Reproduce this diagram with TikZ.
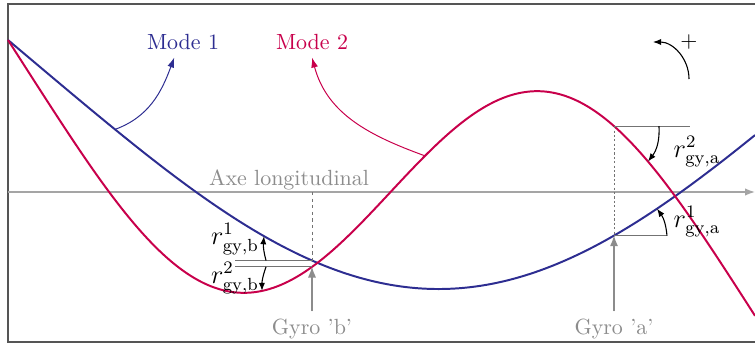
\documentclass[tikz,border=0pt]{standalone}
\usepackage{amsmath}
\usetikzlibrary{arrows.meta,positioning,calc}
\definecolor{modeblue}{RGB}{45,45,145}
\definecolor{modered}{RGB}{200,0,75}
\definecolor{axisgray}{RGB}{165,165,165}
\definecolor{labelgray}{RGB}{140,140,140}
\definecolor{framegray}{RGB}{85,85,85}
\tikzset{
  blueline/.style={draw=modeblue,line width=0.9pt},
  redline/.style={draw=modered,line width=0.9pt},
  axisline/.style={-{Latex[length=1.6mm,width=1.2mm]},draw=axisgray,line width=0.7pt},
  guide/.style={draw=black!55,line width=0.4pt},
  gyroarr/.style={-{Latex[length=1.7mm,width=1.3mm]},draw=labelgray,fill=labelgray,line width=0.5pt},
  rotarr/.style={-{Latex[length=1.3mm,width=1mm]},draw=black,line width=0.5pt},
  modearr/.style={-{Latex[length=1.6mm,width=1.1mm]},line width=0.45pt},
  rlabel/.style={font=\large,inner sep=0.5pt},
  graylabel/.style={text=labelgray},
  declare function={
    xione(\x)=(\x+1)/879;
    modeone(\x)=192-79.8*(0.991*(exp(4.73*(xione(\x)-1))+exp(-4.73*xione(\x)))
      +cos(deg(4.73*xione(\x)))-0.9825*sin(deg(4.73*xione(\x))));
    xitwo(\x)=(\x-8)/765;
    modetwo(\x)=192-76*(exp(-7.853*xitwo(\x))-exp(7.853*(xitwo(\x)-1))
      +cos(deg(7.853*xitwo(\x)))-sin(deg(7.853*xitwo(\x))));
  }
}

\begin{document}
\begin{tikzpicture}[x=0.016cm,y=-0.016cm]
  \useasboundingbox (0,0) rectangle (755,345);
  \clip (0,0) rectangle (755,345);
  \draw[framegray,line width=0.7pt] (8,4) rectangle (775,342);
  % axe longitudinal
  \coordinate (axeL) at (8,192);
  \coordinate (axeR) at (755,192);
  \draw[axisline] (axeL) -- (axeR);
  \node[graylabel] (axe) at (289,180) {Axe longitudinal};
  % deformees modales
  \draw[blueline] plot[domain=8:755,samples=150,smooth] (\x,{modeone(\x)});
  \draw[redline] plot[domain=8:755,samples=150,smooth] (\x,{modetwo(\x)});
  \node[text=modeblue] (mone) at (183,42) {Mode 1};
  \node[text=modered] (mtwo) at (312,42) {Mode 2};
  \coordinate (monefoot) at (115,{modeone(115)});
  \coordinate (mtwofoot) at (425,{modetwo(425)});
  \draw[modearr,modeblue] (monefoot) to[out=20,in=-110] ([xshift=-4pt]mone.south);
  \draw[modearr,modered] (mtwofoot) to[out=160,in=-75] (mtwo.south);
  % gyro b
  \coordinate (gbaxe) at (312,192);
  \coordinate (gbblue) at (312,{modeone(312)});
  \coordinate (gbred) at (312,{modetwo(312)});
  \path (gbblue) ++(-77,0) coordinate (gbblueL);
  \path (gbred) ++(-77,0) coordinate (gbredL);
  \draw[guide,dash pattern=on 1.5pt off 1.5pt] (gbaxe) -- (gbblue);
  \draw[guide] (gbblue) -- (gbblueL);
  \draw[guide] (gbred) -- (gbredL);
  \node[graylabel] (gyrob) at (312,329) {Gyro 'b'};
  \draw[gyroarr] (gyrob) -- (gbred);
  \coordinate (rbone) at (266,{modeone(312)});
  \coordinate (rbonetip) at (264,{modeone(264)});
  \coordinate (rbtwo) at (266,{modetwo(312)});
  \coordinate (rbtwotip) at (262,{modetwo(262)});
  \draw[rotarr] (rbone) to[bend left=10] (rbonetip);
  \draw[rotarr] (rbtwo) to[bend right=10] (rbtwotip);
  \node[rlabel] (rgb1) at (235,239) {$r^1_{\mathrm{gy,b}}$};
  \node[rlabel] (rgb2) at (235,278) {$r^2_{\mathrm{gy,b}}$};
  % gyro a
  \coordinate (gablue) at (614,{modeone(614)});
  \coordinate (gared) at (614,{modetwo(614)});
  \path (gared) ++(76,0) coordinate (garedR);
  \path (gablue) ++(53,0) coordinate (gablueR);
  \draw[guide,dash pattern=on 1pt off 1pt] (gared) -- (gablue);
  \draw[guide] (gared) -- (garedR);
  \draw[guide] (gablue) -- (gablueR);
  \node[graylabel] (gyroa) at (614,329) {Gyro 'a'};
  \draw[gyroarr] (gyroa) -- (gablue);
  \coordinate (ratwo) at (659,{modetwo(614)});
  \coordinate (ratwotip) at (648,{modetwo(648)});
  \coordinate (raonetip) at (657,{modeone(657)});
  \draw[rotarr] (ratwo) to[bend left=20] (ratwotip);
  \draw[rotarr] (gablueR) to[bend right=15] (raonetip);
  \node[rlabel] (rga2) at (697,152) {$r^2_{\mathrm{gy,a}}$};
  \node[rlabel] (rga1) at (697,222) {$r^1_{\mathrm{gy,a}}$};
  % sens positif
  \node (plus) at (689,42) {$+$};
  \coordinate (rotfoot) at (689,79);
  \coordinate (rottip) at (653,42);
  \draw[rotarr] (rotfoot) to[out=90,in=0] (rottip);
\end{tikzpicture}
\end{document}
